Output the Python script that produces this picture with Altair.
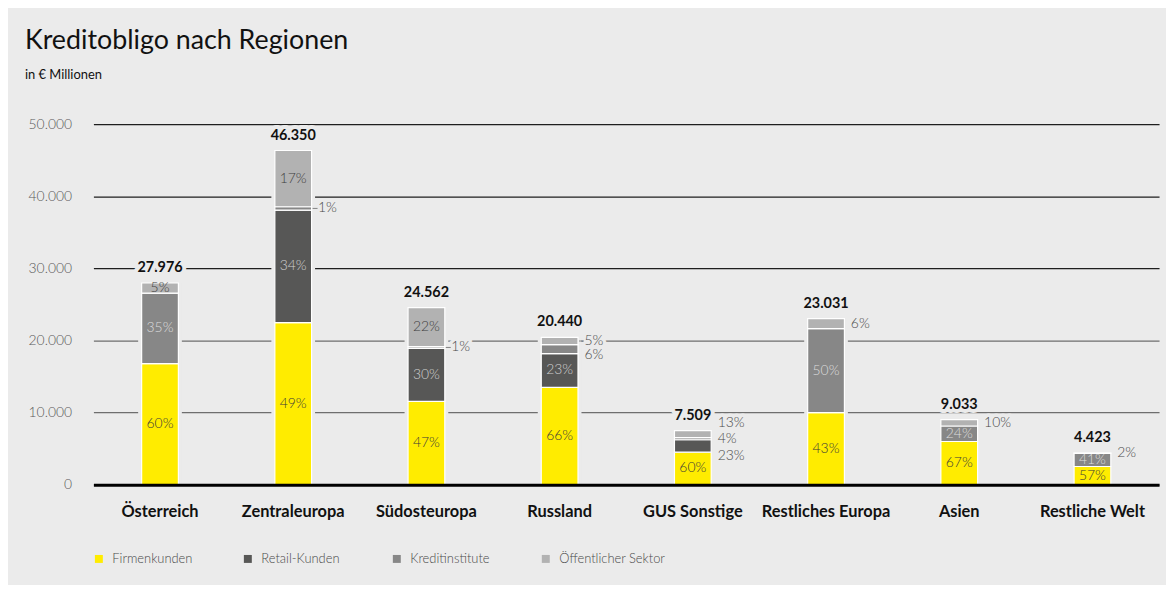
import altair as alt
import pandas as pd

# ---------------- data ----------------
regions = ["Österreich", "Zentraleuropa", "Südosteuropa", "Russland",
           "GUS Sonstige", "Restliches Europa", "Asien", "Restliche Welt"]
totals = [27976, 46350, 24562, 20440, 7509, 23031, 9033, 4423]
segments = ["Firmenkunden", "Retail-Kunden", "Kreditinstitute", "Öffentlicher Sektor"]
pct_firmen = [60, 49, 47, 66, 60, 43, 67, 57]
pct_retail = [0, 34, 30, 23, 23, 0, 0, 0]
pct_kredit = [35, 1, 1, 6, 4, 50, 24, 41]
pct_oeff = [5, 17, 22, 5, 13, 6, 10, 2]
y_ticks = [0, 10000, 20000, 30000, 40000, 50000]

# ---------------- styling ----------------
BG = "#EBEBEB"
FONT = "Lato"
seg_colors = ["#FFEC00", "#575756", "#878787", "#B2B2B2"]
inside_text_color = {"Firmenkunden": "#3a3a3a", "Retail-Kunden": "#cfcfcf",
                     "Kreditinstitute": "#dcdcdc", "Öffentlicher Sektor": "#3f3f3f"}
outside_labels = {("Zentraleuropa", "Kreditinstitute"), ("Südosteuropa", "Kreditinstitute"),
                  ("Russland", "Kreditinstitute"), ("Russland", "Öffentlicher Sektor"),
                  ("GUS Sonstige", "Retail-Kunden"), ("GUS Sonstige", "Kreditinstitute"),
                  ("GUS Sonstige", "Öffentlicher Sektor"), ("Restliches Europa", "Öffentlicher Sektor"),
                  ("Asien", "Öffentlicher Sektor"), ("Restliche Welt", "Öffentlicher Sektor")}
# pixel nudges for outside labels (layout only)
label_nudge = {("Russland", "Kreditinstitute"): 6, ("GUS Sonstige", "Öffentlicher Sektor"): -11,
               ("GUS Sonstige", "Retail-Kunden"): 10}
leader_lines = {("Zentraleuropa", "Kreditinstitute"), ("Südosteuropa", "Kreditinstitute"),
                ("Russland", "Öffentlicher Sektor")}

# ---------------- tables ----------------
pcts = [pct_firmen, pct_retail, pct_kredit, pct_oeff]
rows = []
for i, reg in enumerate(regions):
    s = sum(p[i] for p in pcts)
    cum = 0.0
    for j, seg in enumerate(segments):
        p = pcts[j][i]
        if p == 0:
            continue
        v = totals[i] * p / s
        key = (reg, seg)
        rows.append({
            "region": reg, "segment": seg, "order": j,
            "y0": cum, "y1": cum + v, "mid": cum + v / 2,
            "label": f"{p}%",
            "outside": key in outside_labels,
            "nudge": label_nudge.get(key, 0),
            "leader": key in leader_lines,
            "tcolor": inside_text_color[seg],
        })
        cum += v
seg_df = pd.DataFrame(rows)
tot_df = pd.DataFrame({"region": regions, "total": totals,
                       "label": [f"{t:,}".replace(",", ".") for t in totals]})

x_enc = alt.X("region:N", sort=regions,
              scale=alt.Scale(paddingInner=0, paddingOuter=0),
              axis=alt.Axis(title=None, labelAngle=0, ticks=False, domain=True,
                            domainColor="#000000", domainWidth=3, labelPadding=19,
                            labelFont=FONT, labelFontSize=16.5, labelFontWeight="bold",
                            labelColor="#111111", zindex=1))
x_plain = alt.X("region:N", sort=regions)
y_scale = alt.Scale(domain=[0, 50000], nice=False)
y_axis = alt.Axis(title=None, values=y_ticks, domain=False, ticks=False, grid=True,
                  gridColor={"condition": {"test": "datum.value >= 30000", "value": "#1e1e1e"},
                             "value": "#6e6e6e"},
                  gridWidth=1.2, labelPadding=22, labelFont=FONT, labelFontSize=14,
                  labelColor="#5a5a5a", labelFontWeight=300,
                  labelExpr="replace(format(datum.value, ','), ',', '.')", zindex=0)

base_seg = alt.Chart(seg_df)
base_tot = alt.Chart(tot_df)

halo_bars = base_tot.mark_bar(color=BG, size=44).encode(
    x=x_enc, y=alt.Y("total:Q", scale=y_scale, axis=y_axis))

bars = base_seg.mark_bar(size=37, stroke="white", strokeWidth=1.2).encode(
    x=x_plain,
    y=alt.Y("y0:Q", scale=y_scale),
    y2="y1:Q",
    color=alt.Color("segment:N", sort=segments,
                    scale=alt.Scale(domain=segments, range=seg_colors),
                    legend=alt.Legend(title=None, orient="none", legendX=-1, legendY=431,
                                      direction="horizontal", columns=4, gridAlign="all",
                                      columnPadding=23, symbolType="square", symbolSize=64,
                                      symbolStrokeWidth=0, labelOffset=7, labelFont=FONT,
                                      labelFontSize=13, labelColor="#4a4a4a",
                                      labelFontWeight=300, padding=0)),
)

inside = base_seg.transform_filter("!datum.outside").mark_text(
    font=FONT, fontSize=14, fontWeight=300, baseline="middle", align="center").encode(
    x=x_plain, y=alt.Y("mid:Q", scale=y_scale),
    text="label:N", color=alt.Color("tcolor:N", scale=None))

nudges = sorted(set(seg_df.loc[seg_df["outside"], "nudge"]))
out_halos, out_texts = [], []
for nd in nudges:
    src = base_seg.transform_filter(f"datum.outside && datum.nudge == {nd}")
    out_halos.append(src.mark_text(font=FONT, fontSize=14, fontWeight=300, baseline="middle",
                                   align="left", dx=25, dy=nd, stroke=BG, strokeWidth=7,
                                   fill=BG, strokeJoin="round").encode(
        x=x_plain, y=alt.Y("mid:Q", scale=y_scale), text="label:N"))
    out_texts.append(src.mark_text(font=FONT, fontSize=14, fontWeight=300, baseline="middle",
                                   align="left", dx=25, dy=nd, color="#4a4a4a").encode(
        x=x_plain, y=alt.Y("mid:Q", scale=y_scale), text="label:N"))

leaders = base_seg.transform_filter("datum.leader").mark_tick(
    orient="horizontal", size=5, thickness=1, xOffset=22, color="#555555").encode(
    x=x_plain, y=alt.Y("mid:Q", scale=y_scale))

tot_halo = base_tot.mark_text(font=FONT, fontSize=14.5, fontWeight="bold", dy=-15,
                              baseline="middle", stroke=BG, strokeWidth=8, fill=BG,
                              strokeJoin="round").encode(
    x=x_plain, y=alt.Y("total:Q", scale=y_scale), text="label:N")
tot_text = base_tot.mark_text(font=FONT, fontSize=14.5, fontWeight="bold", dy=-15,
                              baseline="middle", color="#111111").encode(
    x=x_plain, y=alt.Y("total:Q", scale=y_scale), text="label:N")

chart = alt.layer(halo_bars, *out_halos, tot_halo, bars, inside, leaders, *out_texts,
                  tot_text).properties(
    width=1073, height=363,
    padding={"left": 86, "top": 115, "right": 7, "bottom": 99},
    autosize=alt.AutoSizeParams(type="none"),
    title=alt.TitleParams(text="Kreditobligo nach Regionen", subtitle="in € Millionen",
                          anchor="start", frame="group", dx=-69, offset=35,
                          font=FONT, fontSize=27, fontWeight="normal", color="#111111",
                          subtitleFont=FONT, subtitleFontSize=13, subtitleColor="#111111",
                          subtitlePadding=14),
).configure(background=BG).configure_view(stroke=None)

chart.save("out.html", embed_options={"renderer": "svg", "actions": False})
